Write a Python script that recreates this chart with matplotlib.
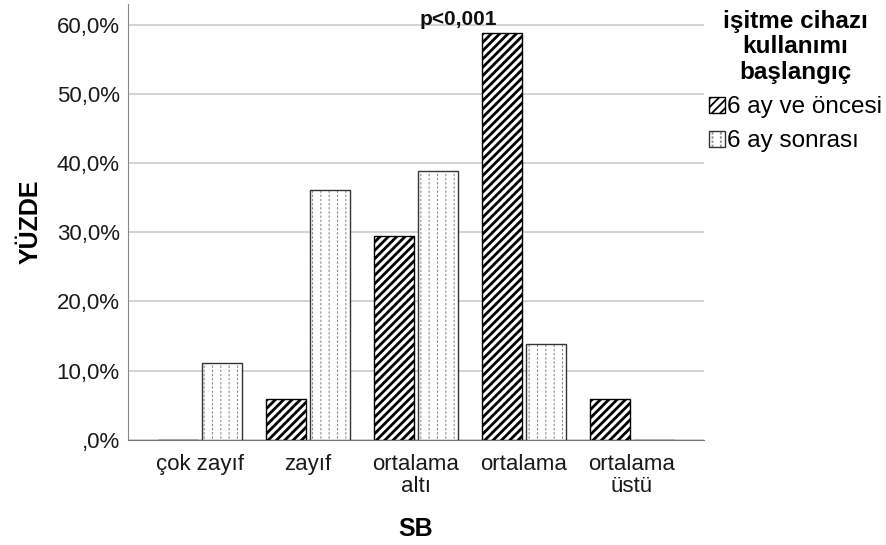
import matplotlib.pyplot as plt
import matplotlib.ticker as mtick
from matplotlib.legend_handler import HandlerTuple
import numpy as np

plt.rcParams['font.family'] = ['Liberation Sans', 'DejaVu Sans']

categories = ['çok zayıf', 'zayıf', 'ortalama\naltı', 'ortalama', 'ortalama\nüstü']
before_6m = [0.0, 5.9, 29.4, 58.8, 5.9]
after_6m = [11.1, 36.1, 38.9, 13.9, 0.0]
series_names = ['6 ay ve öncesi', '6 ay sonrası']
legend_title = 'işitme cihazı\nkullanımı\nbaşlangıç'


def spss_pct(v, pos):
    s = f'{v:.1f}'.replace('.', ',')
    if s.startswith('0,'):
        s = s[1:]
    return s + '%'


fig = plt.figure(figsize=(8.86, 5.45), dpi=100)
ax = fig.add_axes([0.1445, 0.193, 0.650, 0.800])

x = np.arange(len(categories))
w = 0.375
off = 0.204

# diagonal stripes
plt.rcParams['hatch.linewidth'] = 2.0
b1 = ax.bar(x - off, before_6m, w, color='white', edgecolor='black',
            hatch='////', linewidth=1.0, zorder=3)
# dotted vertical lines: gray verticals broken up by thin white horizontals
plt.rcParams['hatch.linewidth'] = 0.8
b2 = ax.bar(x + off, after_6m, w, color='white', edgecolor='#8c8c8c',
            hatch='||', linewidth=0, zorder=3)
plt.rcParams['hatch.linewidth'] = 1.3
b2_dots = ax.bar(x + off, after_6m, w, fill=False, edgecolor='white',
                 hatch='----', linewidth=0, zorder=3.5)
b2_edge = ax.bar(x + off, after_6m, w, fill=False, edgecolor='#333333',
                 linewidth=1.0, zorder=4)

ax.set_xlim(-0.667, 4.667)
ax.set_ylim(0, 63)
ax.set_yticks(np.arange(0, 61, 10))
ax.yaxis.set_major_formatter(mtick.FuncFormatter(spss_pct))
ax.set_xticks(x)
ax.set_xticklabels(categories)
ax.tick_params(length=0, labelsize=16, colors='#1a1a1a')
ax.tick_params(axis='y', pad=6)
ax.tick_params(axis='x', pad=10)
plt.setp(ax.get_xticklabels(), linespacing=1.1)
ax.yaxis.grid(True, color='#cccccc', linewidth=1.2, zorder=0)
ax.set_axisbelow(True)
for s in ['top', 'right']:
    ax.spines[s].set_visible(False)
ax.spines['left'].set_color('#888888')
ax.spines['bottom'].set_color('#777777')

ax.set_ylabel('YÜZDE', fontsize=18, fontweight='bold', labelpad=10)
ax.set_xlabel('SB', fontsize=18, fontweight='bold')
ax.xaxis.set_label_coords(0.5, -0.178)

ax.text(2.395, 60.0, 'p<0,001', ha='center', va='baseline', fontsize=15,
        fontweight='bold', color='#111111')

leg = fig.legend([b1, (b2, b2_dots, b2_edge)], series_names, title=legend_title,
                 handler_map={tuple: HandlerTuple(ndivide=1, pad=0)},
                 loc='upper left', bbox_to_anchor=(0.7945, 0.991),
                 frameon=False, fontsize=17.5, handlelength=0.65,
                 handleheight=0.65, handletextpad=0.08, labelspacing=0.5,
                 borderaxespad=0, borderpad=0.2, alignment='center')
plt.setp(leg.get_title(), fontsize=17.5, fontweight='bold', multialignment='center',
         linespacing=1.15)

fig.savefig('out.png', dpi=100)
